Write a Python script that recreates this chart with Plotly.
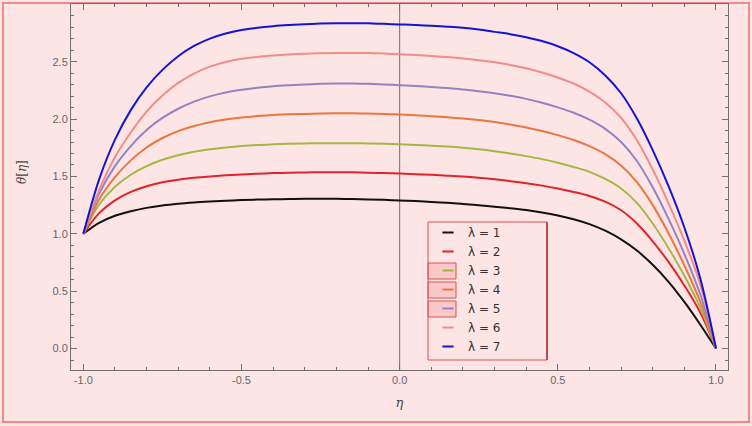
import plotly.graph_objects as go

# Temperature profiles theta(eta) for increasing lambda, sampled every 0.05
eta = [-1.0, -0.95, -0.9, -0.85, -0.8, -0.75, -0.7, -0.65, -0.6, -0.55, -0.5,
       -0.45, -0.4, -0.35, -0.3, -0.25, -0.2, -0.15, -0.1, -0.05, 0.0,
       0.05, 0.1, 0.15, 0.2, 0.25, 0.3, 0.35, 0.4, 0.45, 0.5,
       0.55, 0.6, 0.65, 0.7, 0.75, 0.8, 0.85, 0.9, 0.95, 1.0]

theta_l1 = [1.0, 1.095, 1.157, 1.197, 1.226, 1.247, 1.262, 1.273, 1.282, 1.289, 1.294,
            1.298, 1.301, 1.303, 1.305, 1.305, 1.305, 1.303, 1.30, 1.296, 1.29,
            1.285, 1.278, 1.27, 1.26, 1.249, 1.236, 1.223, 1.207, 1.186, 1.160,
            1.127, 1.084, 1.027, 0.952, 0.854, 0.730, 0.581, 0.406, 0.210, 0.0]
theta_l2 = [1.0, 1.18, 1.292, 1.365, 1.415, 1.449, 1.472, 1.488, 1.50, 1.51, 1.518,
            1.524, 1.529, 1.533, 1.535, 1.537, 1.537, 1.536, 1.533, 1.529, 1.525,
            1.52, 1.514, 1.507, 1.499, 1.488, 1.475, 1.459, 1.441, 1.42, 1.395,
            1.365, 1.33, 1.28, 1.205, 1.09, 0.935, 0.755, 0.55, 0.315, 0.0]
theta_l3 = [1.0, 1.255, 1.41, 1.515, 1.59, 1.645, 1.685, 1.715, 1.737, 1.753, 1.765,
            1.774, 1.78, 1.785, 1.788, 1.79, 1.79, 1.79, 1.788, 1.785, 1.78,
            1.775, 1.768, 1.76, 1.75, 1.737, 1.72, 1.70, 1.677, 1.651, 1.62,
            1.583, 1.54, 1.478, 1.395, 1.27, 1.09, 0.875, 0.635, 0.36, 0.0]
theta_l4 = [1.0, 1.30, 1.495, 1.64, 1.752, 1.835, 1.895, 1.94, 1.973, 1.997, 2.014,
            2.026, 2.035, 2.041, 2.045, 2.048, 2.05, 2.05, 2.048, 2.045, 2.04,
            2.033, 2.025, 2.016, 2.005, 1.991, 1.974, 1.953, 1.927, 1.896, 1.86,
            1.818, 1.765, 1.695, 1.595, 1.45, 1.25, 1.005, 0.725, 0.41, 0.0]
theta_l5 = [1.0, 1.35, 1.59, 1.765, 1.905, 2.01, 2.09, 2.152, 2.198, 2.232, 2.256,
            2.273, 2.286, 2.295, 2.302, 2.307, 2.31, 2.311, 2.307, 2.302, 2.295,
            2.288, 2.28, 2.27, 2.258, 2.243, 2.225, 2.203, 2.176, 2.142, 2.102,
            2.055, 1.995, 1.915, 1.80, 1.635, 1.405, 1.13, 0.825, 0.475, 0.0]
theta_l6 = [1.0, 1.382, 1.668, 1.883, 2.065, 2.205, 2.315, 2.397, 2.457, 2.498, 2.525,
            2.542, 2.554, 2.563, 2.569, 2.573, 2.576, 2.577, 2.575, 2.571, 2.565,
            2.558, 2.55, 2.54, 2.528, 2.513, 2.495, 2.472, 2.443, 2.406, 2.362,
            2.31, 2.24, 2.145, 2.01, 1.815, 1.56, 1.265, 0.94, 0.56, 0.0]
theta_l7 = [1.0, 1.475, 1.821, 2.078, 2.276, 2.429, 2.548, 2.637, 2.701, 2.746, 2.776,
            2.796, 2.81, 2.82, 2.827, 2.832, 2.835, 2.836, 2.835, 2.83, 2.825,
            2.82, 2.813, 2.805, 2.795, 2.78, 2.76, 2.74, 2.714, 2.68, 2.635,
            2.575, 2.495, 2.38, 2.225, 2.005, 1.73, 1.415, 1.055, 0.615, 0.0]

series = [theta_l1, theta_l2, theta_l3, theta_l4, theta_l5, theta_l6, theta_l7]
names = ["λ = 1", "λ = 2", "λ = 3", "λ = 4", "λ = 5", "λ = 6", "λ = 7"]
colors = ["#111111", "#e0242a", "#a3b944", "#e9773f", "#9383c4", "#f08c8a", "#1414d8"]

x_ticks = [-1.0, -0.5, 0.0, 0.5, 1.0]
x_ticktext = ["-1.0", "-0.5", "0.0", "0.5", "1.0"]
y_ticks = [0.0, 0.5, 1.0, 1.5, 2.0, 2.5]
y_ticktext = ["0.0", "0.5", "1.0", "1.5", "2.0", "2.5"]

BG = "#fde5e5"
FRAME = "#707070"

fig = go.Figure()

for ys, c in zip(series, colors):
    fig.add_trace(go.Scatter(x=eta, y=ys, mode="lines", showlegend=False,
                             line=dict(color=c, width=2, shape="spline", smoothing=1.0),
                             hoverinfo="skip"))

# short dash glyphs for the legend
for n, c in zip(names, colors):
    fig.add_trace(go.Scatter(x=[None], y=[None], mode="markers", name=n,
                             marker=dict(symbol="line-ew", size=8,
                                         line=dict(color=c, width=2))))

W, H = 752, 426
L, R, T, B = 71, 24, 4, 56
pw, ph = W - L - R, H - T - B


def px(x):
    return (x - L) / pw


def py(y):
    return (H - B - y) / ph


shapes = [
    # outer page border
    dict(type="rect", xref="paper", yref="paper", x0=px(3), x1=px(749), y0=py(422), y1=py(3),
         line=dict(color="#ee8a88", width=2), layer="below"),
    # vertical axis through the origin
    dict(type="line", xref="x", yref="paper", x0=0, x1=0, y0=0, y1=1,
         line=dict(color=FRAME, width=1), layer="below"),
    # legend frame
    dict(type="rect", xref="paper", yref="paper", x0=px(428), x1=px(547),
         y0=py(360), y1=py(222), line=dict(color="#d9534f", width=1), layer="above"),
    # darker right edge of the legend frame
    dict(type="line", xref="paper", yref="paper", x0=px(547), x1=px(547),
         y0=py(360), y1=py(222), line=dict(color="#a83030", width=1.5)),
]
# highlighted glyph boxes in the legend
for top, bot in [(263, 279), (282, 298), (301, 317)]:
    shapes.append(dict(type="rect", xref="paper", yref="paper", x0=px(428), x1=px(456),
                       y0=py(bot), y1=py(top), line=dict(color="#d9534f", width=1),
                       fillcolor="rgba(240,150,150,0.35)", layer="above"))

axis_common = dict(showgrid=False, showline=True, linecolor=FRAME, linewidth=1,
                   mirror="allticks", ticks="inside", ticklen=6, tickcolor=FRAME,
                   tickfont=dict(family="Liberation Sans, Arial", size=11, color="#666666"))

fig.update_layout(
    width=W, height=H,
    margin=dict(l=L, r=R, t=T, b=B),
    paper_bgcolor=BG, plot_bgcolor=BG,
    xaxis=dict(range=[-1.039, 1.038], tickvals=x_ticks, ticktext=x_ticktext,
               zeroline=False,
               minor=dict(dtick=0.1, tick0=0, ticks="inside", ticklen=3, tickcolor=FRAME),
               title=dict(text="<i>η</i>", standoff=12,
                          font=dict(family="DejaVu Serif", size=13, color="#444444")),
               **axis_common),
    yaxis=dict(range=[-0.187, 3.003], tickvals=y_ticks, ticktext=y_ticktext,
               zeroline=False,
               minor=dict(dtick=0.1, tick0=0, ticks="inside", ticklen=3, tickcolor=FRAME),
               **axis_common),
    legend=dict(x=px(428), y=py(218), xanchor="left", yanchor="top",
                bgcolor="rgba(0,0,0,0)", borderwidth=0,
                font=dict(family="DejaVu Sans", size=12, color="#333333"),
                itemwidth=30, tracegroupgap=0),
    annotations=[
        dict(text="<i>θ</i>[<i>η</i>]", xref="paper", yref="paper", x=px(22), y=py(172),
             showarrow=False, textangle=-90, xanchor="center", yanchor="middle",
             font=dict(family="DejaVu Serif", size=12, color="#444444")),
    ],
    shapes=shapes,
    showlegend=True,
)

fig.write_html("out.html")
